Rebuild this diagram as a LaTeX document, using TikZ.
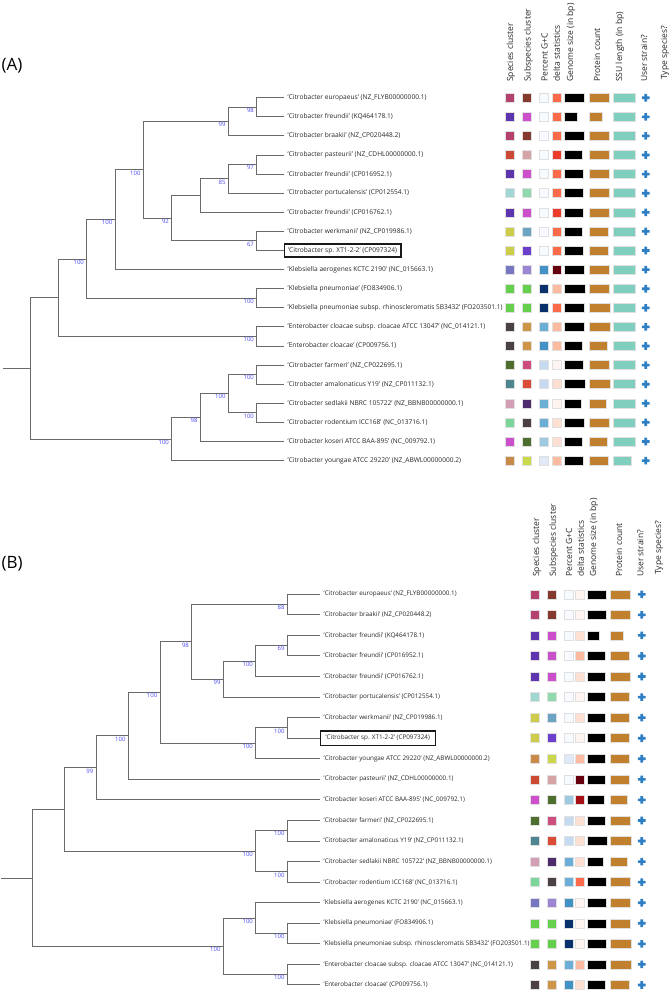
\documentclass[tikz,border=0pt]{standalone}
\usepackage{fontspec}
\setmainfont{Open Sans}
\usepackage{tikz}
\usepackage{xcolor}

\definecolor{treegray}{HTML}{6A6A6A}
\definecolor{bootblue}{HTML}{4A4AF2}
\definecolor{plusblue}{HTML}{2E7EC3}
\definecolor{prot}{HTML}{C0802D}
\definecolor{ssu}{HTML}{80CFBE}
\definecolor{rose}{HTML}{B5416F}
\definecolor{brownr}{HTML}{853A2F}
\definecolor{purp}{HTML}{5E35AE}
\definecolor{orch}{HTML}{CC4FCC}
\definecolor{redor}{HTML}{CC4A34}
\definecolor{pinkg}{HTML}{D4A4A6}
\definecolor{lteal}{HTML}{A0D7D3}
\definecolor{lgrn}{HTML}{8FD9AD}
\definecolor{olivey}{HTML}{CDCD4B}
\definecolor{steel}{HTML}{6DA4C4}
\definecolor{viol}{HTML}{6B3ECB}
\definecolor{slate}{HTML}{7577C1}
\definecolor{lav}{HTML}{9A86D3}
\definecolor{grn}{HTML}{66D04E}
\definecolor{dkg}{HTML}{4B4044}
\definecolor{tan}{HTML}{CE9546}
\definecolor{dkol}{HTML}{4E6E2F}
\definecolor{pinkr}{HTML}{CD4D80}
\definecolor{tealg}{HTML}{4E858E}
\definecolor{redb}{HTML}{DA4A35}
\definecolor{pinkl}{HTML}{D49FB5}
\definecolor{dpur}{HTML}{4E2B6D}
\definecolor{mgrn}{HTML}{7CD599}
\definecolor{tanb}{HTML}{C98A49}
\definecolor{ygrn}{HTML}{CCD84B}
\definecolor{rd0}{HTML}{FFF5F0}
\definecolor{rd1}{HTML}{FEE0D2}
\definecolor{rd2}{HTML}{FCBBA1}
\definecolor{rd4}{HTML}{FB6A4A}
\definecolor{rd5}{HTML}{EF3B2C}
\definecolor{rd7}{HTML}{A50F15}
\definecolor{rd8}{HTML}{67000D}
\definecolor{bl0}{HTML}{F7FBFF}
\definecolor{bl1}{HTML}{DEEBF7}
\definecolor{bl2}{HTML}{C6DBEF}
\definecolor{bl3}{HTML}{9ECAE1}
\definecolor{bl4}{HTML}{6BAED6}
\definecolor{bl5}{HTML}{4292C6}
\definecolor{bl8}{HTML}{08306B}

\tikzset{
  branch/.style={draw=treegray, line width=1pt},
  leafA/.style={anchor=west, inner xsep=4pt, inner ysep=2pt, text=black!85, font=\fontsize{6.6}{7}\selectfont},
  leafB/.style={leafA, font=\fontsize{6.32}{7}\selectfont},
  boxed/.style={draw=black!90, line width=1.2pt, minimum height=13pt},
  boot/.style={anchor=north east, inner sep=0.6pt, xshift=-2pt, text=bootblue, font=\fontsize{6}{6}\selectfont},
  hdr/.style={rotate=90, anchor=west, inner sep=0pt, text=black!85, font=\fontsize{8.5}{9}\selectfont},
  panel/.style={anchor=west, inner sep=0pt, font=\fontsize{17}{18}\selectfont},
  cell/.style={draw=black!12, line width=0.5pt}
}

\begin{document}
\begin{tikzpicture}[x=1pt,y=-1pt]
\useasboundingbox (0,0) rectangle (670,991);

% (A)
\node[panel] (pA) at (1.5,66) {(A)};
\node[hdr] (hA1) at (511,82) {Species cluster};
\node[hdr] (hA2) at (528.5,82) {Subspecies cluster};
\node[hdr] (hA3) at (544.7,82) {Percent G+C};
\node[hdr] (hA4) at (556.7,82) {delta statistics};
\node[hdr] (hA5) at (571,82) {Genome size (in bp)};
\node[hdr] (hA6) at (597,82) {Protein count};
\node[hdr] (hA7) at (620,82) {SSU length (in bp)};
\node[hdr] (hA8) at (644,82) {User strain?};
\node[hdr] (hA9) at (665,80) {Type species?};

\node[leafA] (lA0) at (283.5,97.7) {'Citrobacter europaeus' (NZ\_FLYB00000000.1)};
\node[leafA] (lA1) at (283.5,116.8) {'Citrobacter freundii' (KQ464178.1)};
\node[leafA] (lA2) at (283.5,135.9) {'Citrobacter braakii' (NZ\_CP020448.2)};
\node[leafA] (lA3) at (283.5,155.0) {'Citrobacter pasteurii' (NZ\_CDHL00000000.1)};
\node[leafA] (lA4) at (283.5,174.1) {'Citrobacter freundii' (CP016952.1)};
\node[leafA] (lA5) at (283.5,193.2) {'Citrobacter portucalensis' (CP012554.1)};
\node[leafA] (lA6) at (283.5,212.3) {'Citrobacter freundii' (CP016762.1)};
\node[leafA] (lA7) at (283.5,231.4) {'Citrobacter werkmanii' (NZ\_CP019986.1)};
\node[leafA,boxed] (lA8) at (283.5,250.5) {'Citrobacter sp. XT1-2-2' (CP097324)};
\node[leafA] (lA9) at (283.5,269.6) {'Klebsiella aerogenes KCTC 2190' (NC\_015663.1)};
\node[leafA] (lA10) at (283.5,288.7) {'Klebsiella pneumoniae' (FO834906.1)};
\node[leafA] (lA11) at (283.5,307.8) {'Klebsiella pneumoniae subsp. rhinoscleromatis SB3432' (FO203501.1)};
\node[leafA] (lA12) at (283.5,326.9) {'Enterobacter cloacae subsp. cloacae ATCC 13047' (NC\_014121.1)};
\node[leafA] (lA13) at (283.5,346.0) {'Enterobacter cloacae' (CP009756.1)};
\node[leafA] (lA14) at (283.5,365.1) {'Citrobacter farmeri' (NZ\_CP022695.1)};
\node[leafA] (lA15) at (283.5,384.2) {'Citrobacter amalonaticus Y19' (NZ\_CP011132.1)};
\node[leafA] (lA16) at (283.5,403.3) {'Citrobacter sedlakii NBRC 105722' (NZ\_BBNB00000000.1)};
\node[leafA] (lA17) at (283.5,422.4) {'Citrobacter rodentium ICC168' (NC\_013716.1)};
\node[leafA] (lA18) at (283.5,441.5) {'Citrobacter koseri ATCC BAA-895' (NC\_009792.1)};
\node[leafA] (lA19) at (283.5,460.6) {'Citrobacter youngae ATCC 29220' (NZ\_ABWL00000000.2)};

\coordinate (rootA) at (2.7,368.4);
\coordinate (aR) at (30,368.4);
\coordinate (a1) at (256.7,107.25);
\coordinate (a2) at (228.3,121.6);
\coordinate (a3) at (256.7,164.55);
\coordinate (a4) at (228.3,178.9);
\coordinate (a5) at (200.3,195.6);
\coordinate (a6) at (256.7,240.95);
\coordinate (a7) at (171.7,218.3);
\coordinate (a8) at (143.3,169.9);
\coordinate (a9) at (115,219.8);
\coordinate (a10) at (256.7,298.25);
\coordinate (a11) at (86.7,259.0);
\coordinate (a12) at (256.7,336.45);
\coordinate (a13) at (58.3,297.7);
\coordinate (a14) at (256.7,374.65);
\coordinate (a15) at (256.7,412.85);
\coordinate (a16) at (228.3,393.75);
\coordinate (a17) at (200.3,417.6);
\coordinate (a18) at (171.7,439.1);

\draw[branch] (rootA) -- (aR);
\draw[branch] (aR) |- (a13) (aR) |- (a18);
\draw[branch] (a13) |- (a11) (a13) |- (a12);
\draw[branch] (a11) |- (a9) (a11) |- (a10);
\draw[branch] (a9) |- (a8) (a9) |- (lA9.west);
\draw[branch] (a8) |- (a2) (a8) |- (a7);
\draw[branch] (a2) |- (a1) (a2) |- (lA2.west);
\draw[branch] (a1) |- (lA0.west) (a1) |- (lA1.west);
\draw[branch] (a7) |- (a5) (a7) |- (a6);
\draw[branch] (a5) |- (a4) (a5) |- (lA6.west);
\draw[branch] (a4) |- (a3) (a4) |- (lA5.west);
\draw[branch] (a3) |- (lA3.west) (a3) |- (lA4.west);
\draw[branch] (a6) |- (lA7.west) (a6) |- (lA8.west);
\draw[branch] (a10) |- (lA10.west) (a10) |- (lA11.west);
\draw[branch] (a12) |- (lA12.west) (a12) |- (lA13.west);
\draw[branch] (a18) |- (a17) (a18) |- (lA19.west);
\draw[branch] (a17) |- (a16) (a17) |- (lA18.west);
\draw[branch] (a16) |- (a14) (a16) |- (a15);
\draw[branch] (a14) |- (lA14.west) (a14) |- (lA15.west);
\draw[branch] (a15) |- (lA16.west) (a15) |- (lA17.west);

\node[boot] (ta1) at (a1) {98};
\node[boot] (ta2) at (a2) {99};
\node[boot] (ta3) at (a3) {97};
\node[boot] (ta4) at (a4) {85};
\node[boot] (ta6) at (a6) {67};
\node[boot] (ta7) at (a7) {92};
\node[boot] (ta8) at (a8) {100};
\node[boot] (ta9) at (a9) {100};
\node[boot] (ta10) at (a10) {100};
\node[boot] (ta11) at (a11) {100};
\node[boot] (ta12) at (a12) {100};
\node[boot] (ta14) at (a14) {100};
\node[boot] (ta15) at (a15) {100};
\node[boot] (ta16) at (a16) {100};
\node[boot] (ta17) at (a17) {98};
\node[boot] (ta18) at (a18) {100};

\foreach \n/\cA/\cB/\cC/\cD/\gw/\pw/\sw in {
  0/rose/brownr/bl0/rd4/20.3/20/22, 1/purp/orch/bl0/rd4/13.3/13/22,
  2/rose/brownr/bl0/rd4/20.3/20/22, 3/redor/pinkg/bl0/rd5/18.7/20/22,
  4/purp/orch/bl0/rd4/19.3/20/22, 5/lteal/lgrn/bl0/rd4/19.3/20/22,
  6/purp/orch/bl0/rd5/19.3/20/22, 7/olivey/steel/bl0/rd4/18.7/19/22,
  8/olivey/viol/bl0/rd4/19.3/19/22, 9/slate/lav/bl5/rd8/20.3/20/22,
  10/grn/grn/bl8/rd2/21/20/22, 11/grn/grn/bl8/rd4/20.3/21.7/22,
  12/dkg/tan/bl4/rd2/20.3/21/22, 13/dkg/tan/bl5/rd2/18.7/18.3/22,
  14/dkol/pinkr/bl2/rd0/19.3/20/22, 15/tealg/redb/bl2/rd1/21.7/21/22,
  16/pinkl/dpur/bl4/rd0/17.3/17.3/22, 17/mgrn/dkg/bl4/rd1/20.3/20/22,
  18/orch/dkol/bl3/rd1/18/18.3/22, 19/tanb/ygrn/bl1/rd2/19.3/19.3/18}{
\begin{scope}[shift={(0,0 |- lA\n.center)}]
  \filldraw[cell,fill=\cA] (505,-4.5) rectangle ++(9,9);
  \filldraw[cell,fill=\cB] (522.3,-4.5) rectangle ++(9,9);
  \filldraw[cell,fill=\cC] (539.5,-4.5) rectangle ++(9,9);
  \filldraw[cell,fill=\cD] (552.2,-4.5) rectangle ++(9,9);
  \filldraw[cell,fill=black] (564,-4.5) rectangle ++(\gw,9);
  \filldraw[cell,fill=prot] (589,-4.5) rectangle ++(\pw,9);
  \filldraw[cell,fill=ssu] (613.7,-4.5) rectangle ++(\sw,9);
  \fill[plusblue] (644.4,-3.8) rectangle ++(2.6,7.6) (641.9,-1.3) rectangle ++(7.6,2.6);
\end{scope}
}

% (B)
\node[panel] (pB) at (1.5,563.3) {(B)};
\node[hdr] (hB1) at (537,577) {Species cluster};
\node[hdr] (hB2) at (553.7,577) {Subspecies cluster};
\node[hdr] (hB3) at (569,577) {Percent G+C};
\node[hdr] (hB4) at (580.8,577) {delta statistics};
\node[hdr] (hB5) at (594,577) {Genome size (in bp)};
\node[hdr] (hB6) at (619,577) {Protein count};
\node[hdr] (hB7) at (640.3,577) {User strain?};
\node[hdr] (hB8) at (659,575) {Type species?};

\node[leafB] (lB0) at (319.5,594.3) {'Citrobacter europaeus' (NZ\_FLYB00000000.1)};
\node[leafB] (lB1) at (319.5,614.86) {'Citrobacter braakii' (NZ\_CP020448.2)};
\node[leafB] (lB2) at (319.5,635.42) {'Citrobacter freundii' (KQ464178.1)};
\node[leafB] (lB3) at (319.5,655.98) {'Citrobacter freundii' (CP016952.1)};
\node[leafB] (lB4) at (319.5,676.54) {'Citrobacter freundii' (CP016762.1)};
\node[leafB] (lB5) at (319.5,697.1) {'Citrobacter portucalensis' (CP012554.1)};
\node[leafB] (lB6) at (319.5,717.66) {'Citrobacter werkmanii' (NZ\_CP019986.1)};
\node[leafB,boxed,minimum height=14.5pt,inner xsep=5.5pt] (lB7) at (319.5,738.22) {'Citrobacter sp. XT1-2-2' (CP097324)};
\node[leafB] (lB8) at (319.5,758.78) {'Citrobacter youngae ATCC 29220' (NZ\_ABWL00000000.2)};
\node[leafB] (lB9) at (319.5,779.34) {'Citrobacter pasteurii' (NZ\_CDHL00000000.1)};
\node[leafB] (lB10) at (319.5,799.9) {'Citrobacter koseri ATCC BAA-895' (NC\_009792.1)};
\node[leafB] (lB11) at (319.5,820.46) {'Citrobacter farmeri' (NZ\_CP022695.1)};
\node[leafB] (lB12) at (319.5,841.02) {'Citrobacter amalonaticus Y19' (NZ\_CP011132.1)};
\node[leafB] (lB13) at (319.5,861.58) {'Citrobacter sedlakii NBRC 105722' (NZ\_BBNB00000000.1)};
\node[leafB] (lB14) at (319.5,882.14) {'Citrobacter rodentium ICC168' (NC\_013716.1)};
\node[leafB] (lB15) at (319.5,902.7) {'Klebsiella aerogenes KCTC 2190' (NC\_015663.1)};
\node[leafB] (lB16) at (319.5,923.26) {'Klebsiella pneumoniae' (FO834906.1)};
\node[leafB] (lB17) at (319.5,943.82) {'Klebsiella pneumoniae subsp. rhinoscleromatis SB3432' (FO203501.1)};
\node[leafB] (lB18) at (319.5,964.38) {'Enterobacter cloacae subsp. cloacae ATCC 13047' (NC\_014121.1)};
\node[leafB] (lB19) at (319.5,984.94) {'Enterobacter cloacae' (CP009756.1)};

\coordinate (rootB) at (1,878.0);
\coordinate (bR) at (32,878.0);
\coordinate (b1) at (287.3,604.58);
\coordinate (b2) at (287.3,645.7);
\coordinate (b3) at (255.7,661.12);
\coordinate (b4) at (223.3,679.11);
\coordinate (b5) at (191.7,641.85);
\coordinate (b6) at (287.3,727.94);
\coordinate (b7) at (255.7,743.36);
\coordinate (b8) at (160,692.6);
\coordinate (b9) at (128.3,735.97);
\coordinate (b10) at (96,767.94);
\coordinate (b11) at (287.3,830.74);
\coordinate (b12) at (287.3,871.86);
\coordinate (b13) at (255.7,851.3);
\coordinate (b14) at (64,809.62);
\coordinate (b15) at (287.3,933.54);
\coordinate (b16) at (255.7,918.12);
\coordinate (b17) at (287.3,974.66);
\coordinate (b18) at (223.3,946.39);

\draw[branch] (rootB) -- (bR);
\draw[branch] (bR) |- (b14) (bR) |- (b18);
\draw[branch] (b14) |- (b10) (b14) |- (b13);
\draw[branch] (b10) |- (b9) (b10) |- (lB10.west);
\draw[branch] (b9) |- (b8) (b9) |- (lB9.west);
\draw[branch] (b8) |- (b5) (b8) |- (b7);
\draw[branch] (b5) |- (b1) (b5) |- (b4);
\draw[branch] (b1) |- (lB0.west) (b1) |- (lB1.west);
\draw[branch] (b4) |- (b3) (b4) |- (lB5.west);
\draw[branch] (b3) |- (b2) (b3) |- (lB4.west);
\draw[branch] (b2) |- (lB2.west) (b2) |- (lB3.west);
\draw[branch] (b7) |- (b6) (b7) |- (lB8.west);
\draw[branch] (b6) |- (lB6.west) (b6) |- (lB7.west);
\draw[branch] (b13) |- (b11) (b13) |- (b12);
\draw[branch] (b11) |- (lB11.west) (b11) |- (lB12.west);
\draw[branch] (b12) |- (lB13.west) (b12) |- (lB14.west);
\draw[branch] (b18) |- (b16) (b18) |- (b17);
\draw[branch] (b16) |- (lB15.west) (b16) |- (b15);
\draw[branch] (b15) |- (lB16.west) (b15) |- (lB17.west);
\draw[branch] (b17) |- (lB18.west) (b17) |- (lB19.west);

\node[boot] (tb1) at (b1) {88};
\node[boot] (tb2) at (b2) {69};
\node[boot] (tb3) at (b3) {100};
\node[boot] (tb4) at (b4) {99};
\node[boot] (tb5) at (b5) {98};
\node[boot] (tb6) at (b6) {100};
\node[boot] (tb7) at (b7) {100};
\node[boot] (tb8) at (b8) {100};
\node[boot] (tb9) at (b9) {100};
\node[boot] (tb10) at (b10) {99};
\node[boot] (tb11) at (b11) {100};
\node[boot] (tb12) at (b12) {100};
\node[boot] (tb13) at (b13) {100};
\node[boot] (tb15) at (b15) {100};
\node[boot] (tb16) at (b16) {100};
\node[boot] (tb17) at (b17) {100};
\node[boot] (tb18) at (b18) {100};

\foreach \n/\cA/\cB/\cC/\cD/\gw/\pw in {
  0/rose/brownr/bl0/rd0/19.7/19.3, 1/rose/brownr/bl0/rd0/19.7/19.3,
  2/purp/orch/bl0/rd1/12/13, 3/purp/orch/bl0/rd2/18.7/18.7,
  4/purp/orch/bl0/rd1/18.7/19.3, 5/lteal/lgrn/bl0/rd0/18.7/18.7,
  6/olivey/steel/bl0/rd1/18/18.7, 7/olivey/viol/bl0/rd0/18.7/18.7,
  8/tanb/ygrn/bl1/rd2/18.7/18.7, 9/redor/pinkg/bl0/rd8/18/18.7,
  10/orch/dkol/bl3/rd7/17.3/16.7, 11/dkol/pinkr/bl2/rd1/18.7/19.3,
  12/tealg/redb/bl2/rd1/20.7/20.3, 13/pinkl/dpur/bl4/rd1/16.7/17,
  14/mgrn/dkg/bl4/rd4/19.7/19.3, 15/slate/lav/bl5/rd0/19.7/19.3,
  16/grn/grn/bl8/rd0/19.7/19.3, 17/grn/grn/bl8/rd0/19.7/21,
  18/dkg/tan/bl4/rd2/19.7/20.3, 19/dkg/tan/bl5/rd1/18/18.7}{
\begin{scope}[shift={(0,0 |- lB\n.center)}]
  \filldraw[cell,fill=\cA] (530.7,-4.5) rectangle ++(9,9);
  \filldraw[cell,fill=\cB] (547.3,-4.5) rectangle ++(9,9);
  \filldraw[cell,fill=\cC] (564.3,-4.5) rectangle ++(9,9);
  \filldraw[cell,fill=\cD] (575.2,-4.5) rectangle ++(9,9);
  \filldraw[cell,fill=black] (587,-4.5) rectangle ++(\gw,9);
  \filldraw[cell,fill=prot] (610.7,-4.5) rectangle ++(\pw,9);
  \fill[plusblue] (640.4,-3.8) rectangle ++(2.6,7.6) (637.9,-1.3) rectangle ++(7.6,2.6);
\end{scope}
}

\end{tikzpicture}
\end{document}
